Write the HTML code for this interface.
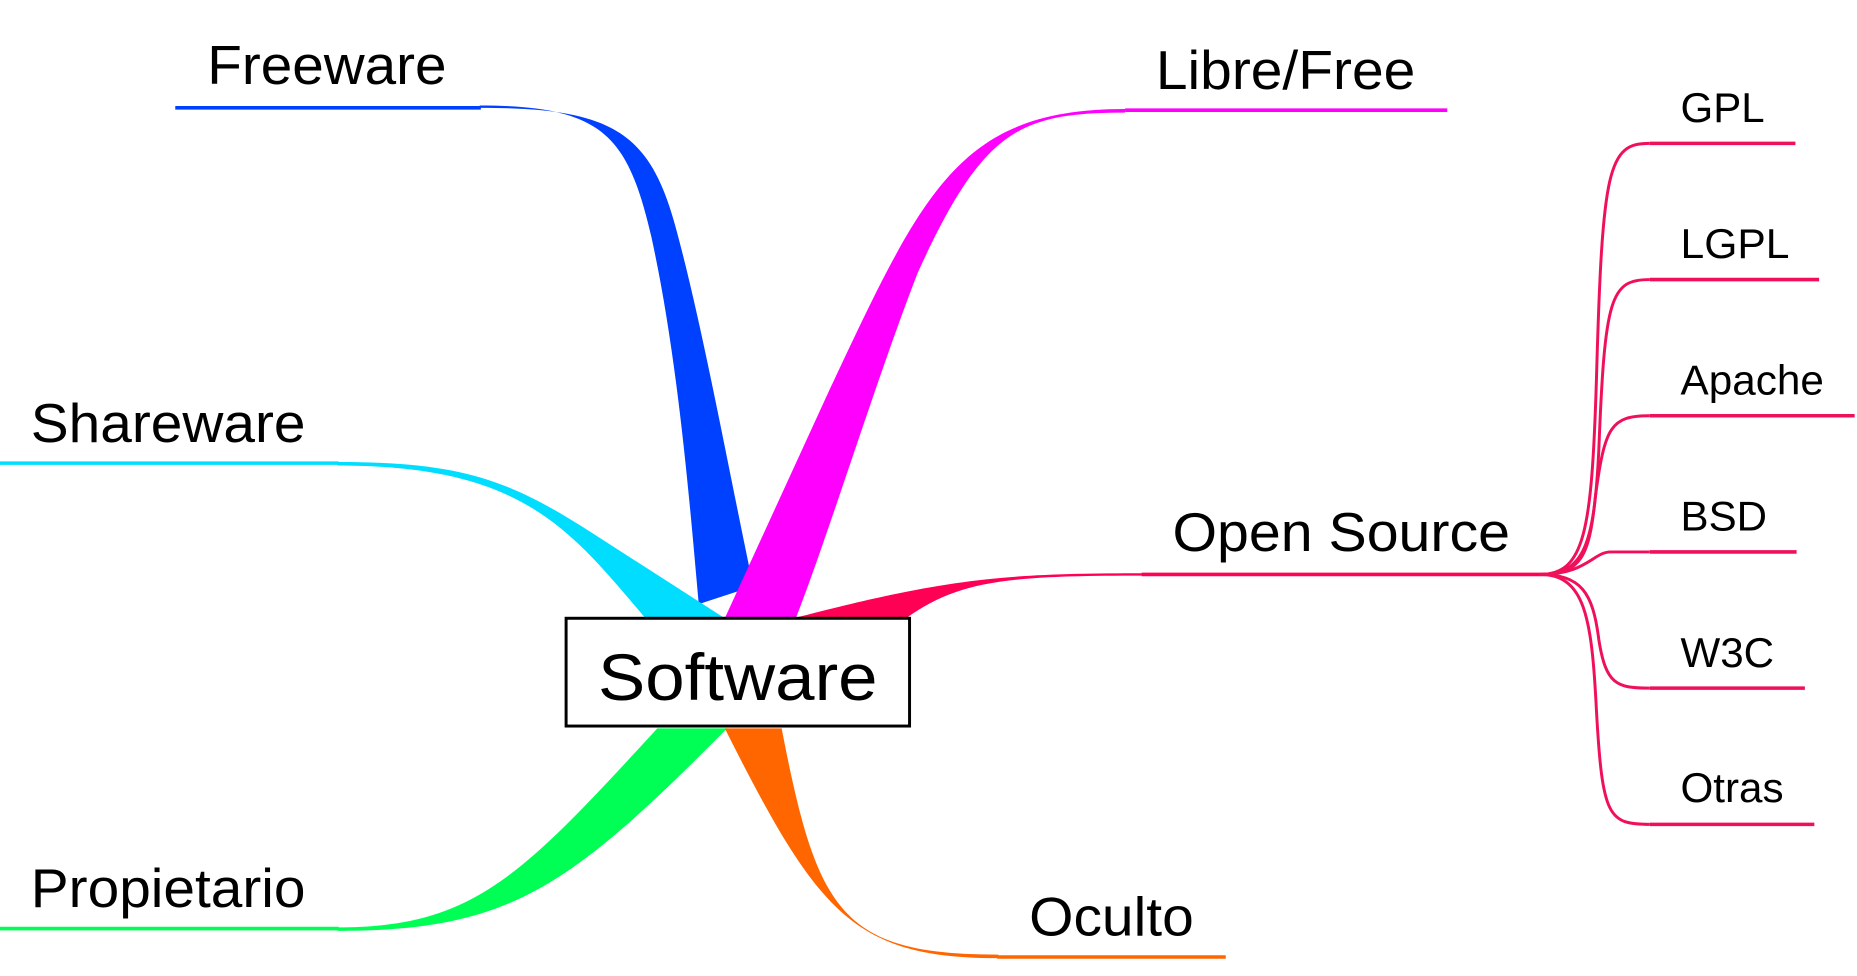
<!DOCTYPE html>
<html><head><style>html,body{margin:0;padding:0;background:#fff;}svg{display:block}</style></head>
<body>
<svg width="1857" height="976" viewBox="0 0 1568 824" xmlns="http://www.w3.org/2000/svg" font-family="Liberation Sans, Arial, sans-serif">
<rect width="1568" height="824" fill="#fff"/>
<!-- Freeware -->
<path d="M405,89 C510,89 530,115 550,200 C572,300 582,420 590,510 L636,495 C612,380 592,270 570,190 C548,110 515,91 405,91 Z" fill="#0040ff"/>
<line x1="148" y1="91" x2="406" y2="91" stroke="#0040ff" stroke-width="3"/>
<!-- Libre/Free -->
<path d="M612,522 L700,330 C780,160 810,92 950,92 L950,95 C860,95 830,110 775,230 C740,320 700,450 672,522 Z" fill="#ff00ff"/>
<line x1="950" y1="93" x2="1222" y2="93" stroke="#ff00ff" stroke-width="3"/>
<!-- Shareware -->
<path d="M285,390 C390,390 430,405 500,450 L612,522 L545,522 C480,445 440,393 285,393 Z" fill="#00ddff"/>
<line x1="0" y1="391" x2="286" y2="391" stroke="#00ddff" stroke-width="3"/>
<!-- Propietario -->
<path d="M285,783 C400,783 440,740 555,615 L614,615 C480,750 430,786 285,786 Z" fill="#00ff55"/>
<line x1="0" y1="784" x2="286" y2="784" stroke="#00ff55" stroke-width="3"/>
<!-- Oculto -->
<path d="M612,615 L660,615 C690,770 710,806 843,806 L843,809 C720,809 690,770 612,615 Z" fill="#ff6600"/>
<line x1="842" y1="808" x2="1035" y2="808" stroke="#ff6600" stroke-width="3"/>
<!-- Open Source -->
<path d="M670,522 C800,488 850,484 965,484 L965,486 C850,486 810,490 765,522 Z" fill="#ff0055"/>
<line x1="964" y1="485" x2="1305" y2="485" stroke="#ff0055" stroke-width="3"/>
<g fill="none" stroke="#f0105a" stroke-width="2.5">
<path d="M1300,485 C1338,485 1344,450 1348,320 C1353,140 1358,121 1393,121"/>
<path d="M1300,485 C1338,485 1346,460 1350,380 C1355,250 1360,236 1393,236"/>
<path d="M1300,485 C1335,485 1342,470 1347,420 C1355,360 1360,351 1393,351"/>
<path d="M1300,485 C1340,485 1345,466 1360,466 L1393,466"/>
<path d="M1300,485 C1335,485 1345,500 1350,540 C1356,578 1365,581 1393,581"/>
<path d="M1300,485 C1338,485 1344,520 1348,600 C1353,690 1358,696 1393,696"/>
</g>
<g stroke="#f0105a" stroke-width="3">
<line x1="1393" y1="121" x2="1516" y2="121"/>
<line x1="1393" y1="236" x2="1536" y2="236"/>
<line x1="1393" y1="351" x2="1566" y2="351"/>
<line x1="1393" y1="466" x2="1517" y2="466"/>
<line x1="1393" y1="581" x2="1524" y2="581"/>
<line x1="1393" y1="696" x2="1532" y2="696"/>
</g>
<!-- center -->
<rect x="478" y="522" width="290" height="91" fill="#fff" stroke="#000" stroke-width="2.5"/>
<text x="505" y="591" font-size="56" textLength="236" lengthAdjust="spacingAndGlyphs">Software</text>
<g font-size="46" fill="#000">
<text x="175" y="71" textLength="202" lengthAdjust="spacingAndGlyphs">Freeware</text>
<text x="976" y="75" textLength="219" lengthAdjust="spacingAndGlyphs">Libre/Free</text>
<text x="26" y="373" textLength="232" lengthAdjust="spacingAndGlyphs">Shareware</text>
<text x="26" y="766" textLength="232" lengthAdjust="spacingAndGlyphs">Propietario</text>
<text x="990" y="465" textLength="285" lengthAdjust="spacingAndGlyphs">Open Source</text>
<text x="869" y="790" textLength="139" lengthAdjust="spacingAndGlyphs">Oculto</text>
</g>
<g font-size="35" fill="#000">
<text x="1419" y="103" textLength="71" lengthAdjust="spacingAndGlyphs">GPL</text>
<text x="1419" y="218" textLength="92" lengthAdjust="spacingAndGlyphs">LGPL</text>
<text x="1419" y="333" textLength="121" lengthAdjust="spacingAndGlyphs">Apache</text>
<text x="1419" y="448" textLength="73" lengthAdjust="spacingAndGlyphs">BSD</text>
<text x="1419" y="563" textLength="79" lengthAdjust="spacingAndGlyphs">W3C</text>
<text x="1419" y="677" textLength="87" lengthAdjust="spacingAndGlyphs">Otras</text>
</g>
</svg>
</body></html>
